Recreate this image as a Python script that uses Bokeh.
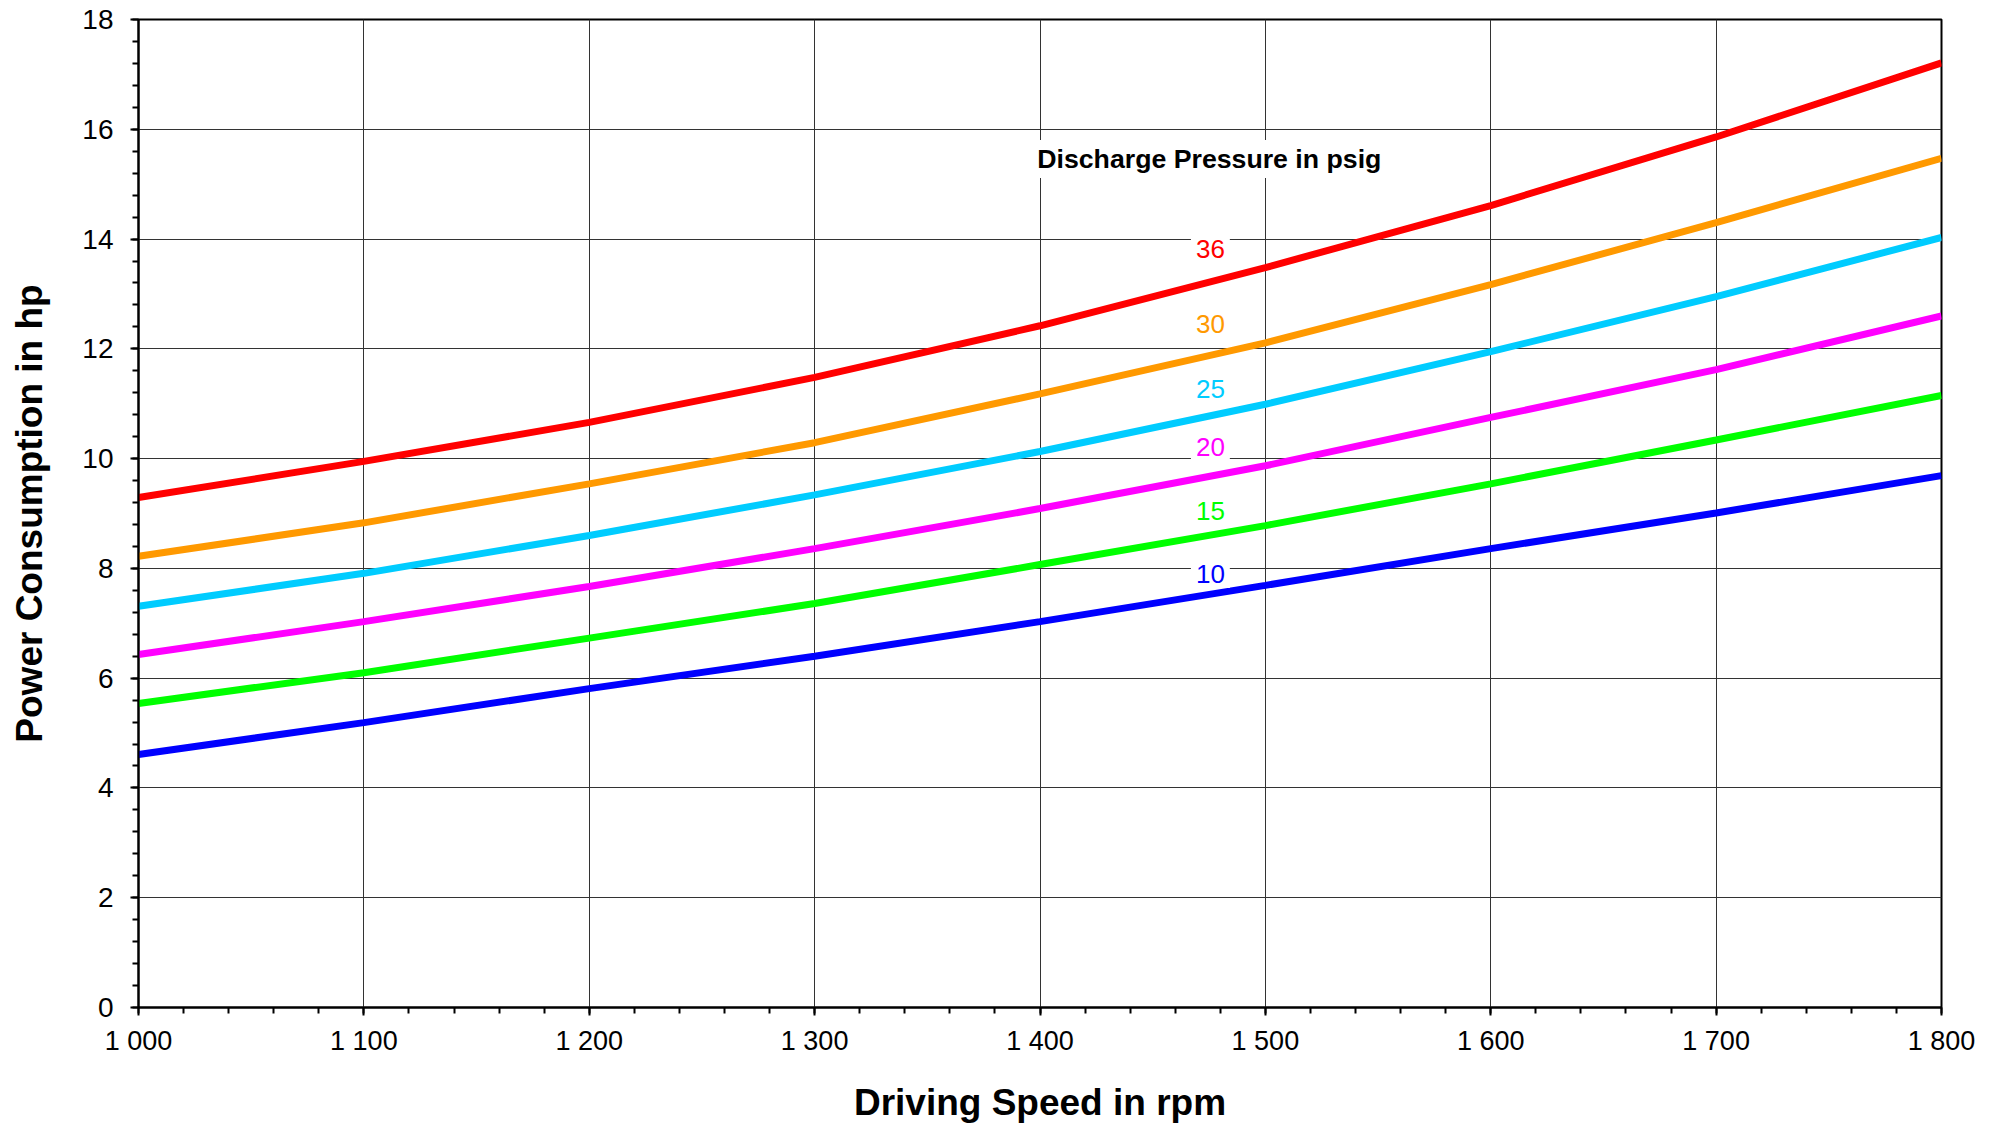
from bokeh.plotting import figure
from bokeh.models import Label, SingleIntervalTicker, Range1d
from bokeh.embed import file_html
from bokeh.resources import INLINE

# ---- data ----
speed_rpm = [1000, 1100, 1200, 1300, 1400, 1500, 1600, 1700, 1800]
power_36 = [9.29, 9.95, 10.66, 11.48, 12.42, 13.48, 14.61, 15.86, 17.21]
power_30 = [8.22, 8.83, 9.54, 10.29, 11.18, 12.11, 13.17, 14.30, 15.47]
power_25 = [7.31, 7.91, 8.60, 9.34, 10.13, 10.99, 11.95, 12.95, 14.03]
power_20 = [6.43, 7.03, 7.67, 8.36, 9.09, 9.87, 10.75, 11.62, 12.60]
power_15 = [5.54, 6.10, 6.73, 7.36, 8.07, 8.78, 9.54, 10.34, 11.15]
power_10 = [4.61, 5.19, 5.81, 6.40, 7.03, 7.69, 8.36, 9.01, 9.69]

pressure_labels = ["36", "30", "25", "20", "15", "10"]
series = [power_36, power_30, power_25, power_20, power_15, power_10]
colors = ["#FF0000", "#FF9900", "#00CCFF", "#FF00FF", "#00FF00", "#0000FF"]
label_x = 1475.6
label_y = [13.81, 12.45, 11.27, 10.21, 9.05, 7.90]

x_ticks = [1000, 1100, 1200, 1300, 1400, 1500, 1600, 1700, 1800]
x_tick_labels = ["1 000", "1 100", "1 200", "1 300", "1 400", "1 500", "1 600", "1 700", "1 800"]

FONT = "Liberation Sans"

W, H = 1995, 1125
p = figure(width=W, height=H,
           x_range=Range1d(1000, 1800), y_range=Range1d(0, 18),
           output_backend="svg", toolbar_location=None,
           min_border_left=138, min_border_right=W - 1941,
           min_border_top=19, min_border_bottom=H - 1007)
p.background_fill_color = "white"
p.border_fill_color = "white"
p.outline_line_color = "black"
p.outline_line_width = 2

p.xaxis.ticker = SingleIntervalTicker(interval=100, num_minor_ticks=5)
p.yaxis.ticker = SingleIntervalTicker(interval=2, num_minor_ticks=5)
p.xaxis.major_label_overrides = {v: s for v, s in zip(x_ticks, x_tick_labels)}

for ax in (p.xaxis[0], p.yaxis[0]):
    ax.axis_line_color = "black"
    ax.axis_line_width = 2
    ax.major_tick_line_color = "black"
    ax.major_tick_line_width = 2
    ax.major_tick_out = 8
    ax.major_tick_in = 0
    ax.minor_tick_line_color = "black"
    ax.minor_tick_line_width = 2
    ax.minor_tick_out = 6
    ax.minor_tick_in = 0
    ax.major_label_text_font = FONT
    ax.major_label_text_color = "black"
    ax.axis_label_text_font = FONT
    ax.axis_label_text_font_size = "37px"
    ax.axis_label_text_font_style = "bold"
    ax.axis_label_text_color = "black"

p.xaxis.major_label_text_font_size = "27px"
p.yaxis.major_label_text_font_size = "28px"
p.xaxis.axis_label = "Driving Speed in rpm"
p.yaxis.axis_label = "Power Consumption in hp"
p.xaxis.major_label_standoff = 10
p.yaxis.major_label_standoff = 17
p.xaxis.axis_label_standoff = 23
p.yaxis.axis_label_standoff = 29

p.grid.grid_line_color = "#333333"
p.grid.grid_line_width = 1
p.xgrid.ticker = p.xaxis[0].ticker
p.ygrid.ticker = p.yaxis[0].ticker

for ys, c in zip(series, colors):
    p.line(speed_rpm, ys, line_color=c, line_width=7)

for txt, y, c in zip(pressure_labels, label_y, colors):
    p.add_layout(Label(x=label_x, y=y, text=txt, text_color=c,
                       text_font=FONT, text_font_size="26px",
                       text_align="center", text_baseline="middle",
                       background_fill_color="white", padding=5))

p.add_layout(Label(x=1397, y=15.46, text="Discharge Pressure in psig",
                   text_color="black", text_font=FONT, text_font_size="26.7px",
                   text_font_style="bold", text_align="left", text_baseline="middle",
                   background_fill_color="white", padding=4))

open("out.html", "w").write(file_html(p, INLINE))
